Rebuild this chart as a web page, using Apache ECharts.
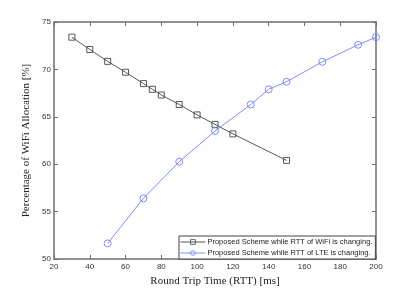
<!DOCTYPE html>
<html>
<head>
<meta charset="utf-8">
<script src="https://cdn.jsdelivr.net/npm/echarts@6/dist/echarts.min.js"></script>
<style>html,body{margin:0;padding:0;background:#fff}#c{width:415px;height:292px}</style>
</head>
<body>
<div id="c"></div>
<script>
var wifiX = [30, 40, 50, 60, 70, 75, 80, 90, 100, 110, 120, 150];
var wifiY = [73.4, 72.1, 70.85, 69.7, 68.5, 67.9, 67.3, 66.3, 65.2, 64.2, 63.2, 60.4];
var lteX = [50, 70, 90, 110, 130, 140, 150, 170, 190, 200];
var lteY = [51.65, 56.4, 60.26, 63.5, 66.3, 67.9, 68.7, 70.8, 72.6, 73.4];
var seriesNames = ['Proposed Scheme while RTT of WiFi is changing.', 'Proposed Scheme while RTT of LTE is changing.'];
var xTitle = 'Round Trip Time (RTT) [ms]';
var yTitle = 'Percentage of WiFi Allocation [%]';

function pairs(xs, ys) { return xs.map(function (x, i) { return [x, ys[i]]; }); }

var axisCol = '#6e6e6e';
var labelFont = { color: '#333', fontSize: 8, fontFamily: 'Liberation Sans, Arial, sans-serif' };
var titleFont = { color: '#222', fontSize: 11, fontFamily: 'Liberation Serif, Times New Roman, serif' };

var chart = echarts.init(document.getElementById('c'), null, { renderer: 'canvas' });
chart.setOption({
  backgroundColor: '#fff',
  animation: false,
  grid: { left: 54, top: 22, right: 39, bottom: 33, containLabel: false },
  xAxis: [{
    type: 'value', min: 20, max: 200, interval: 20, position: 'bottom',
    name: xTitle, nameLocation: 'middle', nameGap: 17, nameTextStyle: titleFont,
    axisLine: { show: true, lineStyle: { color: axisCol, width: 1.5 } },
    axisTick: { show: true, inside: true, length: 4, lineStyle: { color: axisCol } },
    axisLabel: Object.assign({ margin: 4 }, labelFont),
    splitLine: { show: false }
  }, {
    type: 'value', min: 20, max: 200, interval: 20, position: 'top',
    axisLine: { show: true, lineStyle: { color: axisCol, width: 1.5 } },
    axisTick: { show: true, inside: true, length: 4, lineStyle: { color: axisCol } },
    axisLabel: { show: false }, splitLine: { show: false }
  }],
  yAxis: [{
    type: 'value', min: 50, max: 75, interval: 5, position: 'left',
    name: yTitle, nameLocation: 'middle', nameGap: 19, nameRotate: 90, nameTextStyle: titleFont,
    axisLine: { show: true, lineStyle: { color: axisCol, width: 1.5 } },
    axisTick: { show: true, inside: true, length: 4, lineStyle: { color: axisCol } },
    axisLabel: Object.assign({ margin: 3 }, labelFont),
    splitLine: { show: false }
  }, {
    type: 'value', min: 50, max: 75, interval: 5, position: 'right',
    axisLine: { show: true, lineStyle: { color: axisCol, width: 1.5 } },
    axisTick: { show: true, inside: true, length: 4, lineStyle: { color: axisCol } },
    axisLabel: { show: false }, splitLine: { show: false }
  }],
  legend: {
    orient: 'vertical', left: 179, top: 236,
    padding: [2, 3, 2, 1], itemGap: 3, itemWidth: 25, itemHeight: 6,
    backgroundColor: '#fff', borderColor: '#444', borderWidth: 1, borderRadius: 0,
    itemStyle: { borderWidth: 0.8 },
    lineStyle: { width: 0.9 },
    textStyle: { color: '#222', fontSize: 7.5, fontFamily: 'Liberation Sans, Arial, sans-serif', padding: [0, 0, 0, -3] },
    data: seriesNames
  },
  series: [{
    name: seriesNames[0], type: 'line', data: pairs(wifiX, wifiY),
    symbol: 'rect', symbolSize: 6,
    lineStyle: { color: '#444', width: 0.9 },
    itemStyle: { color: 'rgba(255,255,255,0)', borderColor: '#444', borderWidth: 0.9 },
    emphasis: { disabled: true }
  }, {
    name: seriesNames[1], type: 'line', data: pairs(lteX, lteY),
    symbol: 'circle', symbolSize: 7,
    lineStyle: { color: '#6f7fff', width: 0.9 },
    itemStyle: { color: 'rgba(255,255,255,0)', borderColor: '#6f7fff', borderWidth: 0.9 },
    emphasis: { disabled: true }
  }]
});
</script>
</body>
</html>
